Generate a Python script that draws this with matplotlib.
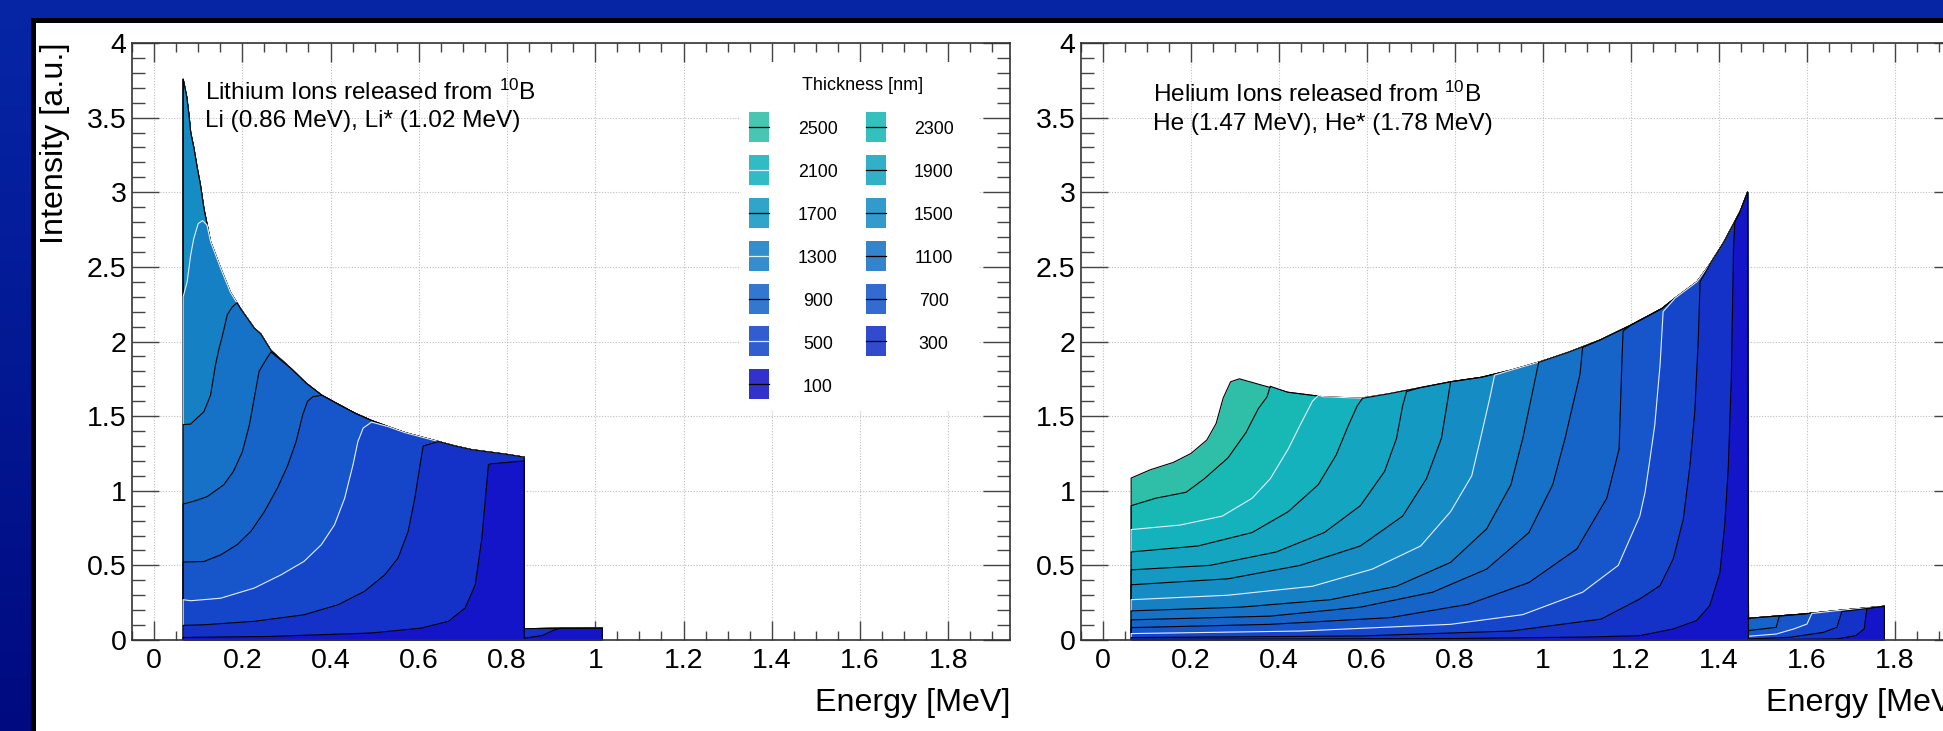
import numpy as np
import matplotlib
matplotlib.use("Agg")
import matplotlib.pyplot as plt
from matplotlib.patches import Rectangle
from matplotlib.lines import Line2D
from matplotlib.ticker import MultipleLocator, FuncFormatter

plt.rcParams['font.family'] = ['Liberation Sans', 'DejaVu Sans']
plt.rcParams['mathtext.fontset'] = 'custom'
plt.rcParams['mathtext.rm'] = 'Liberation Sans'
plt.rcParams['mathtext.it'] = 'Liberation Sans:italic'

# ---- data ----
thickness = [2500, 2300, 2100, 1900, 1700, 1500, 1300, 1100, 900, 700, 500, 300, 100]

# Lithium: upper envelope (thick layers) and the 1.02 MeV branch
li_env_e = [0.066, 0.074, 0.079, 0.083, 0.09, 0.098, 0.105, 0.113, 0.128, 0.151, 0.173,
            0.196, 0.227, 0.242, 0.265, 0.31, 0.345, 0.38, 0.417, 0.455, 0.493, 0.53,
            0.568, 0.606, 0.644, 0.682, 0.72, 0.758, 0.796, 0.839]
li_env_i = [3.757, 3.64, 3.52, 3.40, 3.30, 3.16, 3.05, 2.89, 2.67, 2.49, 2.33,
            2.22, 2.09, 2.05, 1.94, 1.82, 1.72, 1.64, 1.58, 1.52, 1.47, 1.43,
            1.39, 1.36, 1.33, 1.30, 1.275, 1.26, 1.245, 1.225]
li_star_e = [0.839, 0.92, 1.016]
li_star_i = [0.076, 0.078, 0.079]

li_rise_e = {
    1300: [0.066, 0.075, 0.083, 0.09, 0.10, 0.11, 0.12],
    1100: [0.066, 0.083, 0.113, 0.128, 0.139, 0.147, 0.155, 0.166, 0.177, 0.188],
    900: [0.066, 0.09, 0.12, 0.158, 0.18, 0.2, 0.216, 0.227, 0.238, 0.254, 0.265],
    700: [0.066, 0.113, 0.151, 0.189, 0.22, 0.25, 0.28, 0.303, 0.322, 0.337, 0.348, 0.36, 0.38],
    500: [0.066, 0.083, 0.151, 0.227, 0.288, 0.34, 0.379, 0.409, 0.432, 0.451, 0.462, 0.474, 0.493],
    300: [0.066, 0.113, 0.227, 0.34, 0.417, 0.477, 0.523, 0.553, 0.576, 0.591, 0.603, 0.61, 0.622, 0.644],
    100: [0.066, 0.265, 0.493, 0.606, 0.667, 0.705, 0.728, 0.743, 0.751, 0.758, 0.762, 0.80, 0.839],
}
li_rise_i = {
    1300: [2.30, 2.40, 2.58, 2.69, 2.79, 2.81, 2.78],
    1100: [1.443, 1.447, 1.53, 1.64, 1.84, 1.95, 2.04, 2.18, 2.23, 2.26],
    900: [0.911, 0.93, 0.96, 1.04, 1.13, 1.26, 1.44, 1.62, 1.80, 1.88, 1.93],
    700: [0.522, 0.526, 0.57, 0.64, 0.73, 0.86, 1.02, 1.17, 1.33, 1.51, 1.60, 1.63, 1.64],
    500: [0.27, 0.263, 0.28, 0.348, 0.437, 0.527, 0.638, 0.772, 0.95, 1.175, 1.33, 1.42, 1.46],
    300: [0.098, 0.102, 0.125, 0.169, 0.236, 0.326, 0.437, 0.549, 0.728, 0.951, 1.175, 1.30, 1.31, 1.33],
    100: [0.017, 0.024, 0.047, 0.08, 0.125, 0.214, 0.37, 0.683, 0.95, 1.175, 1.18, 1.19, 1.20],
}
li_star_rise_e = {100: [0.839, 0.88, 0.905, 0.92]}
li_star_rise_i = {100: [0.012, 0.03, 0.065, 0.078]}

# Helium
he_env_e = [0.064, 0.107, 0.16, 0.20, 0.236, 0.257, 0.273, 0.29, 0.31, 0.37, 0.42, 0.50,
            0.585, 0.65, 0.72, 0.79, 0.86, 0.93, 1.0, 1.06, 1.13, 1.2, 1.27, 1.30, 1.35,
            1.38, 1.41, 1.448, 1.465]
he_env_i = [1.085, 1.14, 1.19, 1.25, 1.34, 1.45, 1.62, 1.73, 1.75, 1.70, 1.66, 1.63,
            1.62, 1.65, 1.69, 1.73, 1.76, 1.81, 1.87, 1.93, 2.01, 2.11, 2.22, 2.29, 2.40,
            2.52, 2.66, 2.87, 3.0]
he_star_e = [1.467, 1.53, 1.593, 1.669, 1.776]
he_star_i = [0.145, 0.16, 0.174, 0.197, 0.226]

he_rise_e = {
    2300: [0.064, 0.120, 0.189, 0.230, 0.284, 0.325, 0.353, 0.373, 0.38],
    2100: [0.064, 0.175, 0.271, 0.339, 0.380, 0.421, 0.448, 0.476, 0.49],
    1900: [0.064, 0.216, 0.339, 0.421, 0.489, 0.530, 0.558, 0.578, 0.59],
    1700: [0.064, 0.243, 0.394, 0.503, 0.585, 0.640, 0.667, 0.681, 0.69],
    1500: [0.064, 0.284, 0.448, 0.585, 0.681, 0.735, 0.769, 0.783, 0.79],
    1300: [0.064, 0.284, 0.476, 0.612, 0.722, 0.790, 0.838, 0.858, 0.879, 0.89],
    1100: [0.064, 0.312, 0.517, 0.667, 0.790, 0.872, 0.927, 0.954, 0.981, 0.99],
    900: [0.064, 0.380, 0.585, 0.749, 0.872, 0.968, 1.022, 1.050, 1.084, 1.09],
    700: [0.064, 0.380, 0.653, 0.831, 0.968, 1.077, 1.145, 1.173, 1.179, 1.182],
    500: [0.064, 0.448, 0.79, 0.954, 1.09, 1.171, 1.22, 1.232, 1.243, 1.254, 1.266, 1.273],
    300: [0.064, 0.585, 0.927, 1.132, 1.22, 1.266, 1.296, 1.319, 1.334, 1.345, 1.353, 1.357],
    100: [0.064, 0.80, 1.10, 1.22, 1.296, 1.349, 1.379, 1.402, 1.413, 1.421, 1.428, 1.433, 1.436],
}
he_rise_i = {
    2300: [0.90, 0.95, 0.99, 1.08, 1.22, 1.39, 1.55, 1.63, 1.70],
    2100: [0.74, 0.77, 0.83, 0.95, 1.08, 1.28, 1.44, 1.60, 1.64],
    1900: [0.59, 0.63, 0.72, 0.86, 1.04, 1.24, 1.44, 1.57, 1.62],
    1700: [0.47, 0.50, 0.59, 0.72, 0.90, 1.13, 1.35, 1.57, 1.665],
    1500: [0.37, 0.41, 0.50, 0.63, 0.83, 1.08, 1.35, 1.60, 1.73],
    1300: [0.27, 0.30, 0.36, 0.475, 0.63, 0.86, 1.10, 1.35, 1.62, 1.775],
    1100: [0.195, 0.22, 0.27, 0.36, 0.52, 0.745, 1.04, 1.35, 1.73, 1.86],
    900: [0.135, 0.16, 0.22, 0.32, 0.475, 0.72, 1.04, 1.35, 1.78, 1.96],
    700: [0.083, 0.105, 0.15, 0.24, 0.385, 0.61, 0.95, 1.28, 1.84, 2.07],
    500: [0.043, 0.06, 0.105, 0.17, 0.32, 0.50, 0.83, 0.99, 1.21, 1.44, 1.84, 2.20],
    300: [0.016, 0.027, 0.06, 0.14, 0.275, 0.364, 0.543, 0.811, 1.17, 1.53, 2.02, 2.40],
    100: [0.004, 0.01, 0.02, 0.029, 0.074, 0.13, 0.23, 0.45, 0.77, 1.15, 1.75, 2.62, 2.80],
}
he_star_rise_e = {
    700: [1.467, 1.53, 1.537],
    500: [1.467, 1.53, 1.57, 1.60, 1.611],
    300: [1.467, 1.561, 1.637, 1.668, 1.679],
    100: [1.467, 1.668, 1.711, 1.73, 1.736],
}
he_star_rise_i = {
    700: [0.063, 0.085, 0.16],
    500: [0.025, 0.04, 0.074, 0.107, 0.178],
    300: [0.007, 0.018, 0.051, 0.085, 0.19],
    100: [0.002, 0.007, 0.029, 0.074, 0.21],
}

fill_colors = ['#2fbea8', '#18b9b4', '#14b2bc', '#14a6c0', '#1499c2', '#158dc4', '#1680c4',
               '#1672c6', '#1664c8', '#1656ca', '#1546ca', '#1532c8', '#1414c8']
white_lines = [2100, 1300, 500]

W, H = 1943, 731


def fx(px):
    return px / W


def fy(py):
    return 1 - py / H


def merge(env_e, env_i, rise_e, rise_i):
    if rise_e is None:
        return list(env_e), list(env_i)
    xs, ys = list(rise_e), list(rise_i)
    for e, v in zip(env_e, env_i):
        if e > rise_e[-1]:
            xs.append(e)
            ys.append(v)
    return xs, ys


def histo(env_e, env_i, star_e, star_i, rise_e, rise_i, srise_e, srise_i):
    xs, ys = merge(env_e, env_i, rise_e, rise_i)
    sx, sy = merge(star_e, star_i, srise_e, srise_i)
    x = [xs[0]] + xs + sx + [sx[-1]]
    y = [0] + ys + sy + [0]
    return x, y


def style(ax, xmax):
    ax.set_xlim(-0.05, xmax)
    ax.set_ylim(0, 4)
    ax.xaxis.set_major_locator(MultipleLocator(0.2))
    ax.xaxis.set_minor_locator(MultipleLocator(0.05))
    ax.yaxis.set_major_locator(MultipleLocator(0.5))
    ax.yaxis.set_minor_locator(MultipleLocator(0.1))
    fmt = FuncFormatter(lambda v, p: '%g' % round(v, 3))
    ax.xaxis.set_major_formatter(fmt)
    ax.yaxis.set_major_formatter(fmt)
    ax.tick_params(which='both', direction='in', top=True, right=True,
                   color='#444444', labelcolor='black', labelsize=20.5, width=1)
    ax.tick_params(axis='x', which='major', length=13.7, pad=6)
    ax.tick_params(axis='x', which='minor', length=6.8)
    ax.tick_params(axis='y', which='major', length=19.4, pad=4)
    ax.tick_params(axis='y', which='minor', length=9.7)
    ax.grid(True, which='major', color='#bdbdbd', linestyle=(0, (1, 1.5)), lw=0.8)
    ax.set_axisbelow(True)
    for s in ax.spines.values():
        s.set_color('#333333')
        s.set_linewidth(1.2)


fig = plt.figure(figsize=(W / 100, H / 100), dpi=100)

# blue slide background
bg = fig.add_axes([0, 0, 1, 1], zorder=-10)
top = np.array([6, 38, 166]) / 255
bot = np.array([0, 10, 128]) / 255
t = np.linspace(0, 1, 256)[:, None, None]
bg.imshow(top * (1 - t) + bot * t, aspect='auto', extent=[0, 1, 0, 1])
bg.axis('off')
fig.add_artist(Rectangle((fx(32.5), -0.2), 2, fy(19.5) + 0.2, transform=fig.transFigure,
                         facecolor='white', edgecolor='black', lw=3.6, zorder=-5))

axL = fig.add_axes([fx(132), fy(640), fx(878), 597 / H])
axR = fig.add_axes([fx(1081), fy(640), fx(880), 597 / H])
style(axL, 1.94)
style(axR, 1.95)

for k, th in enumerate(thickness):
    lc = '#e4ecff' if th in white_lines else 'black'
    z = 1 + k * 0.01
    x, y = histo(li_env_e, li_env_i, li_star_e, li_star_i,
                 li_rise_e.get(th), li_rise_i.get(th),
                 li_star_rise_e.get(th), li_star_rise_i.get(th))
    axL.fill_between(x, y, 0, color=fill_colors[k], lw=0, zorder=z)
    axL.plot(x, y, color=lc, lw=0.8, zorder=z + 0.005)
    x, y = histo(he_env_e, he_env_i, he_star_e, he_star_i,
                 he_rise_e.get(th), he_rise_i.get(th),
                 he_star_rise_e.get(th), he_star_rise_i.get(th))
    axR.fill_between(x, y, 0, color=fill_colors[k], lw=0, zorder=z)
    axR.plot(x, y, color=lc, lw=0.8, zorder=z + 0.005)

# labels
fig.text(fx(55), fy(42), 'Intensity [a.u.]', rotation=90, ha='center', va='top', fontsize=23.2)
fig.text(fx(1010), fy(711), 'Energy [MeV]', ha='right', va='baseline', fontsize=23.2)
fig.text(fx(1961), fy(711), 'Energy [MeV]', ha='right', va='baseline', fontsize=23.2)

fig.text(fx(205), fy(100), r'Lithium Ions released from $^{10}$B', fontsize=17.6, va='baseline')
fig.text(fx(205), fy(127), 'Li (0.86 MeV), Li* (1.02 MeV)', fontsize=17.6, va='baseline')
fig.text(fx(1153), fy(102), r'Helium Ions released from $^{10}$B', fontsize=17.6, va='baseline')
fig.text(fx(1153), fy(130), 'He (1.47 MeV), He* (1.78 MeV)', fontsize=17.6, va='baseline')

# legend
fig.add_artist(Rectangle((fx(741), fy(410)), fx(237), 348 / H, transform=fig.transFigure,
                         facecolor='white', edgecolor='none', zorder=1))
fig.text(fx(863), fy(90), 'Thickness [nm]', ha='center', va='baseline', fontsize=13, zorder=3)
for k, th in enumerate(thickness):
    row, col = k // 2, k % 2
    yc = 126.7 + row * 42.95
    x0 = 749.3 if col == 0 else 865.7
    lab = 817.8 if col == 0 else 933.7
    lc = '#e4ecff' if th in white_lines else 'black'
    fig.add_artist(Rectangle((fx(x0), fy(yc + 15)), fx(20), 30 / H, transform=fig.transFigure,
                             facecolor=fill_colors[k], edgecolor='none', alpha=0.88, zorder=2))
    fig.add_artist(Line2D([fx(x0), fx(x0 + 20)], [fy(yc), fy(yc)], transform=fig.transFigure,
                          color=lc, lw=0.9, zorder=2.5))
    fig.text(fx(lab), fy(yc + 7.3), str(th), ha='center', va='baseline', fontsize=12.8, zorder=3)

fig.savefig('out.png', dpi=100)
